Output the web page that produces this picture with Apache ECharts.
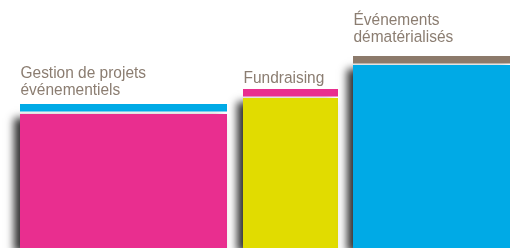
<!DOCTYPE html>
<html>
<head>
<meta charset="utf-8">
<script src="https://cdn.jsdelivr.net/npm/echarts@6/dist/echarts.min.js"></script>
<style>
  html, body { margin: 0; padding: 0; background: #fff; }
  #chart { width: 510px; height: 248px; }
</style>
</head>
<body>
<div id="chart"></div>
<script>
// categories + values (units = share of the strip, height of the block)
var categories = ['Gestion de projets\névénementiels', 'Fundraising', 'Événements\ndématérialisés'];
var xStart = [20, 243, 353];
var xEnd = [227, 338, 512];
var blockValues = [134, 150, 183];
var capValues = [144, 159, 192];

// styles
var blockColors = ['#E92E8F', '#E1DC00', '#00AAE6'];
var capColors = ['#00AAE6', '#E92E8F', '#8C7A6B'];
var labelGap = [5.5, 2, 10];

var seriesData = [];
for (var i = 0; i < categories.length; i++) {
    seriesData.push([xStart[i], xEnd[i], blockValues[i], capValues[i]]);
}

function renderBlock(params, api) {
    var idx = params.dataIndex;
    var p0 = api.coord([api.value(0), 0]);
    var p1 = api.coord([api.value(1), 0]);
    var top = api.coord([api.value(0), api.value(2)]);
    var cap = api.coord([api.value(0), api.value(3)]);
    var w = p1[0] - p0[0];
    return {
        type: 'group',
        children: [
            {
                type: 'rect',
                shape: { x: p0[0], y: top[1], width: w, height: p0[1] - top[1] },
                style: {
                    fill: blockColors[idx],
                    shadowBlur: 8,
                    shadowOffsetX: -6,
                    shadowOffsetY: 4,
                    shadowColor: 'rgba(0,0,0,0.8)'
                }
            },
            {
                type: 'rect',
                shape: { x: p0[0], y: cap[1], width: w, height: 7.5 },
                style: { fill: capColors[idx] }
            },
            {
                // condensed look: narrow the regular face a little
                type: 'text',
                x: p0[0] + 0.5,
                y: cap[1] - labelGap[idx],
                scaleX: 0.9,
                style: {
                    text: categories[idx],
                    x: 0,
                    y: 0,
                    align: 'left',
                    verticalAlign: 'bottom',
                    fontFamily: '"Liberation Sans", Arial, sans-serif',
                    fontSize: 17.2,
                    lineHeight: 17,
                    fill: '#8B7D71'
                }
            }
        ]
    };
}

var option = {
    animation: false,
    grid: { left: 0, right: 0, top: 0, bottom: 0 },
    xAxis: { type: 'value', min: 0, max: 510, show: false },
    yAxis: { type: 'value', min: 0, max: 248, show: false },
    series: [
        {
            type: 'custom',
            renderItem: renderBlock,
            clip: true,
            data: seriesData
        }
    ]
};

var chart = echarts.init(document.getElementById('chart'));
chart.setOption(option);
</script>
</body>
</html>
